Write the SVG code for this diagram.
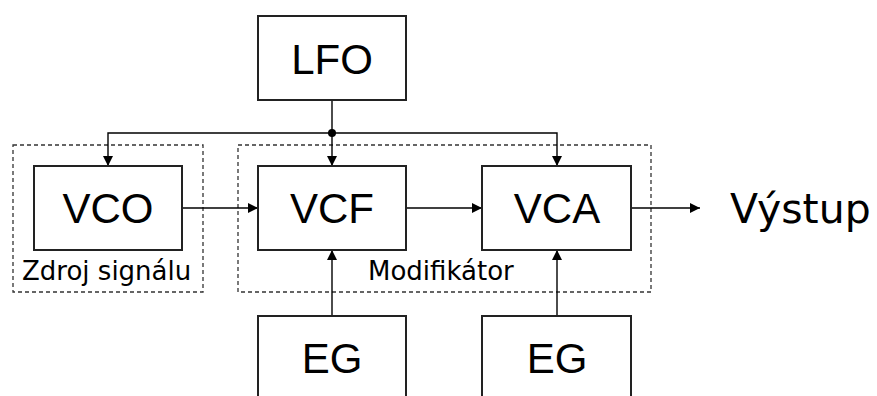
<svg xmlns="http://www.w3.org/2000/svg" width="877" height="396" viewBox="0 0 877 396">
<style>
.box{fill:#fff;stroke:#222;stroke-width:2}
.grp{fill:none;stroke:#333;stroke-width:1.3;stroke-dasharray:4 3}
.lbl{font-family:"Liberation Sans",Arial,sans-serif;font-size:42px;fill:#000;text-anchor:middle}
.sm{font-family:"DejaVu Sans",Verdana,sans-serif;font-size:26px;fill:#000}
.ln{fill:none;stroke:#000;stroke-width:1.4}
</style>
<defs>
<marker id="ah" viewBox="0 0 10 10" refX="10" refY="5" markerWidth="10" markerHeight="10" markerUnits="userSpaceOnUse" orient="auto">
<path d="M0,0 L10,5 L0,10 z" fill="#000"/>
</marker>
</defs>
<g id="group-source">
<rect class="grp" x="13" y="145" width="190" height="147"/>
<text class="sm" x="22" y="280">Zdroj signálu</text>
</g>
<g id="group-modifier">
<rect class="grp" x="238" y="145" width="413" height="147"/>
<text class="sm" x="368" y="280">Modifikátor</text>
</g>
<g id="connectors">
<path class="ln" d="M332,100 V166" marker-end="url(#ah)"/>
<path class="ln" d="M332,133 H108 V166" marker-end="url(#ah)"/>
<path class="ln" d="M332,133 H557 V166" marker-end="url(#ah)"/>
<circle cx="332" cy="133" r="4" fill="#000"/>
<path class="ln" d="M182,208 H258" marker-end="url(#ah)"/>
<path class="ln" d="M406,208 H482" marker-end="url(#ah)"/>
<path class="ln" d="M631,208 H700" marker-end="url(#ah)"/>
<path class="ln" d="M332,316 V250" marker-end="url(#ah)"/>
<path class="ln" d="M557,316 V250" marker-end="url(#ah)"/>
</g>
<g id="lfo">
<rect class="box" x="258" y="16" width="148" height="84"/>
<text class="lbl" x="332" y="74">LFO</text>
</g>
<g id="vco">
<rect class="box" x="34" y="166" width="148" height="84"/>
<text class="lbl" x="108" y="223">VCO</text>
</g>
<g id="vcf">
<rect class="box" x="258" y="166" width="148" height="84"/>
<text class="lbl" x="332" y="223">VCF</text>
</g>
<g id="vca">
<rect class="box" x="482" y="166" width="149" height="84"/>
<text class="lbl" x="557" y="223">VCA</text>
</g>
<g id="eg1">
<rect class="box" x="258" y="316" width="148" height="100"/>
<text class="lbl" x="332" y="373">EG</text>
</g>
<g id="eg2">
<rect class="box" x="482" y="316" width="149" height="100"/>
<text class="lbl" x="557" y="373">EG</text>
</g>
<g id="output">
<text x="730" y="223" font-family="'DejaVu Sans',Verdana,sans-serif" font-size="41" fill="#000">Výstup</text>
</g>
</svg>
